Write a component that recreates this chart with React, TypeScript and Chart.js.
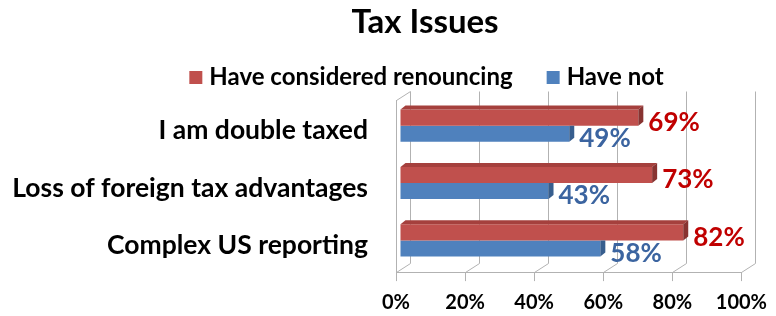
import React, { useEffect, useRef } from "react";
import { Chart, registerables } from "chart.js";

Chart.register(...registerables);

// ---- data ----
const chartTitle = "Tax Issues";
const categories = ["I am double taxed", "Loss of foreign tax advantages", "Complex US reporting"];
const seriesNames = ["Have considered renouncing", "Have not"];
const consideredRenouncing = [0.69, 0.73, 0.82];
const haveNot = [0.49, 0.43, 0.58];
const tickLabels = ["0%", "20%", "40%", "60%", "80%", "100%"];

// ---- styles ----
const FONT = "Lato, 'DejaVu Sans', sans-serif";
const RED = "#c0504d";
const RED_TOP = "#a5403d";
const RED_SIDE = "#883331";
const BLUE = "#4f81bd";
const BLUE_SIDE = "#375e8e";
const RED_LABEL = "#c00000";
const BLUE_LABEL = "#3b64a0";
const GRID = "#b2b2b2";
const WALL_DX = 14;
const WALL_DY = -9;
const BAR_DX = 4;
const BAR_DY = -3;
const FACE_DX = 5;
const FACE_DY = -4;

const seriesColors = [RED, BLUE];
const sideColors = [RED_SIDE, BLUE_SIDE];
const labelColors = [RED_LABEL, BLUE_LABEL];

const depthPlugin = {
  id: "depth3d",
  beforeDatasetsDraw(chart: any) {
    const { ctx, chartArea: a } = chart;
    const x = chart.scales.x;
    ctx.save();
    ctx.strokeStyle = GRID;
    ctx.lineWidth = 1;
    ctx.beginPath();
    x.ticks.forEach((t: any) => {
      const px = Math.round(x.getPixelForValue(t.value)) + 0.5;
      ctx.moveTo(px, Math.round(a.bottom) + 0.5);
      ctx.lineTo(px + WALL_DX, Math.round(a.bottom) + 0.5 + WALL_DY);
      ctx.lineTo(px + WALL_DX, Math.round(a.top) + 0.5 + WALL_DY);
    });
    const l = Math.round(a.left) + 0.5;
    ctx.moveTo(l, Math.round(a.top) + 0.5);
    ctx.lineTo(l + WALL_DX, Math.round(a.top) + 0.5 + WALL_DY);
    ctx.stroke();
    ctx.restore();
    ctx.save();
    ctx.translate(BAR_DX, BAR_DY);
  },
  afterDatasetsDraw(chart: any) {
    const ctx = chart.ctx;
    for (let di = chart.data.datasets.length - 1; di >= 0; di--) {
      const meta = chart.getDatasetMeta(di);
      meta.data.forEach((el: any) => {
        const { x, y, base, height } = el.getProps(["x", "y", "base", "height"], true);
        const top = y - height / 2;
        const bottom = y + height / 2;
        if (di === 0) {
          ctx.fillStyle = RED_TOP;
          ctx.beginPath();
          ctx.moveTo(base, top);
          ctx.lineTo(base + FACE_DX, top + FACE_DY);
          ctx.lineTo(x + FACE_DX, top + FACE_DY);
          ctx.lineTo(x, top);
          ctx.closePath();
          ctx.fill();
          ctx.fillStyle = sideColors[di];
          ctx.beginPath();
          ctx.moveTo(x, top);
          ctx.lineTo(x + FACE_DX, top + FACE_DY);
          ctx.lineTo(x + FACE_DX, bottom + FACE_DY);
          ctx.lineTo(x, bottom);
          ctx.closePath();
          ctx.fill();
        } else {
          ctx.fillStyle = sideColors[di];
          ctx.beginPath();
          ctx.moveTo(x, top);
          ctx.lineTo(x + FACE_DX, top);
          ctx.lineTo(x + FACE_DX, bottom + FACE_DY);
          ctx.lineTo(x, bottom);
          ctx.closePath();
          ctx.fill();
        }
      });
    }
    ctx.restore();
    // data labels
    ctx.save();
    ctx.font = `bold 26px ${FONT}`;
    ctx.textAlign = "left";
    ctx.textBaseline = "middle";
    chart.data.datasets.forEach((ds: any, di: number) => {
      const meta = chart.getDatasetMeta(di);
      meta.data.forEach((el: any, i: number) => {
        const { x, y } = el.getProps(["x", "y"], true);
        ctx.fillStyle = labelColors[di];
        ctx.fillText(`${Math.round(ds.data[i] * 100)}%`, x + 14, y + 2);
      });
    });
    ctx.restore();
  },
  afterDraw(chart: any) {
    const ctx = chart.ctx;
    ctx.save();
    ctx.fillStyle = "#000";
    ctx.textBaseline = "alphabetic";
    ctx.textAlign = "center";
    ctx.font = `bold 33px ${FONT}`;
    ctx.fillText(chartTitle, 425, 33);
    // legend
    ctx.font = `bold 24px ${FONT}`;
    ctx.textAlign = "left";
    const box = 13;
    const gap = 7;
    const between = 34;
    const w0 = ctx.measureText(seriesNames[0]).width;
    const w1 = ctx.measureText(seriesNames[1]).width;
    const total = box + gap + w0 + between + box + gap + w1;
    let lx = 426.5 - total / 2;
    [w0, w1].forEach((w, i) => {
      ctx.fillStyle = seriesColors[i];
      ctx.fillRect(lx, 71, box, box);
      ctx.fillStyle = "#000";
      ctx.fillText(seriesNames[i], lx + box + gap, 85);
      lx += box + gap + w + between;
    });
    ctx.restore();
  },
};

export default function App() {
  const ref = useRef<HTMLCanvasElement | null>(null);
  useEffect(() => {
    if (!ref.current) return;
    const chart = new Chart(ref.current, {
      type: "bar",
      data: {
        labels: categories,
        datasets: [
          {
            label: seriesNames[0],
            data: consideredRenouncing,
            backgroundColor: RED,
            barPercentage: 1,
            categoryPercentage: 0.56,
          },
          {
            label: seriesNames[1],
            data: haveNot,
            backgroundColor: BLUE,
            barPercentage: 1,
            categoryPercentage: 0.56,
          },
        ],
      },
      options: {
        indexAxis: "y",
        animation: false,
        responsive: true,
        maintainAspectRatio: false,
        layout: { padding: { left: 0, right: 28, top: 100, bottom: 0 } },
        plugins: {
          legend: { display: false },
          title: { display: false },
          tooltip: { enabled: false },
        },
        scales: {
          x: {
            min: 0,
            max: 1,
            grid: { drawOnChartArea: false, drawTicks: true, tickLength: 9, color: GRID },
            border: { display: true, color: GRID },
            ticks: {
              stepSize: 0.2,
              padding: 9,
              color: "#000",
              font: { family: FONT, size: 20, weight: "bold" },
              callback: (_v: any, i: number) => tickLabels[i],
            },
            afterFit: (s: any) => {
              s.height = 42;
            },
          },
          y: {
            grid: { drawOnChartArea: false, drawTicks: false },
            border: { display: true, color: GRID },
            ticks: {
              color: "#000",
              padding: 28,
              labelOffset: 2,
              font: { family: FONT, size: 26.5, weight: "bold" },
            },
            afterFit: (s: any) => {
              s.width = 396;
            },
          },
        },
      },
      plugins: [depthPlugin],
    });
    return () => chart.destroy();
  }, []);
  return (
    <div style={{ position: "absolute", left: 0, top: 0, width: 776, height: 316 }}>
      <canvas ref={ref} />
    </div>
  );
}
